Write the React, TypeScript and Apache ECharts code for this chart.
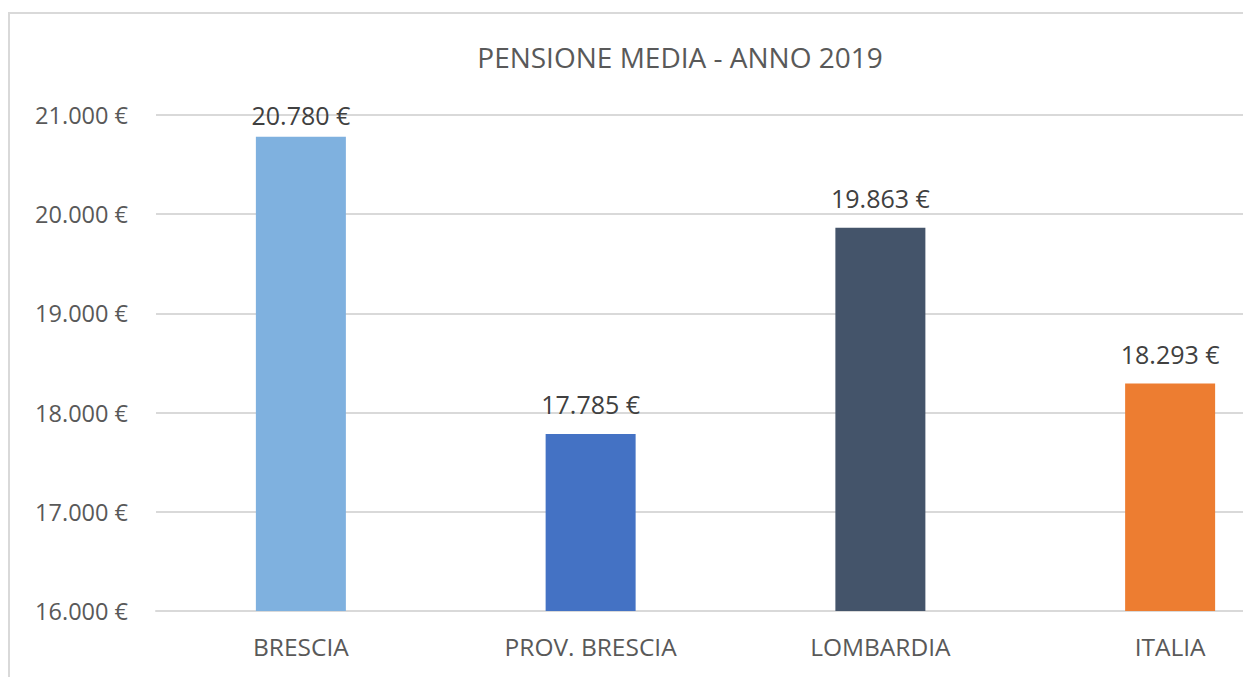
import React, { useEffect, useRef } from "react";
import * as echarts from "echarts";

const TITLE = "PENSIONE MEDIA - ANNO 2019";
const categories = ["BRESCIA", "PROV. BRESCIA", "LOMBARDIA", "ITALIA"];
const values = [20780, 17785, 19863, 18293];
const barColors = ["#7FB1DF", "#4472C4", "#44546A", "#ED7D31"];
const yMin = 16000;
const yMax = 21000;
const yStep = 1000;

const fmt = (v: number) =>
  String(Math.round(v)).replace(/\B(?=(\d{3})+(?!\d))/g, ".") + " €";

const FONT = "'Open Sans', 'Noto Sans', sans-serif";

const GRID_TOP = 115;
const GRID_BOTTOM_Y = 611;
const LABEL_SIZE = 25;

export default function App() {
  const ref = useRef<HTMLDivElement>(null);
  useEffect(() => {
    if (!ref.current) return;
    const chart = echarts.init(ref.current, null, { renderer: "svg" });
    const ppu = (GRID_BOTTOM_Y - GRID_TOP) / (yMax - yMin);
    // Excel keeps labels inside the plot area: clamp the label offset
    const labelDistance = (v: number) => {
      const normal = 17;
      const maxOff = (yMax - v) * ppu + 0.5 - LABEL_SIZE / 2;
      return Math.min(normal, maxOff);
    };
    chart.setOption({
      animation: false,
      backgroundColor: "#ffffff",
      textStyle: { fontFamily: FONT },
      graphic: [
        {
          type: "rect",
          shape: { x: 9, y: 13, width: 1500, height: 1000 },
          style: { fill: "none", stroke: "#d9d9d9", lineWidth: 2 },
          silent: true,
          z: -10,
        },
        {
          type: "text",
          x: 680,
          y: 57,
          style: {
            text: TITLE,
            fontFamily: FONT,
            fontSize: 28,
            fill: "#595959",
            align: "center",
            verticalAlign: "middle",
          },
        },
      ],
      grid: { left: 156, right: 15, top: GRID_TOP, bottom: 677 - GRID_BOTTOM_Y, containLabel: false },
      xAxis: {
        type: "category",
        data: categories,
        axisLine: { show: true, lineStyle: { color: "#d9d9d9", width: 2 } },
        axisTick: { show: false },
        axisLabel: {
          color: "#595959",
          fontSize: 24.5,
          fontFamily: FONT,
          margin: 23,
        },
      },
      yAxis: {
        type: "value",
        min: yMin,
        max: yMax,
        interval: yStep,
        axisLine: { show: false },
        axisTick: { show: false },
        splitLine: { lineStyle: { color: "#d9d9d9", width: 2 } },
        axisLabel: {
          color: "#595959",
          fontSize: 23.5,
          fontFamily: FONT,
          margin: 28,
          formatter: (v: number) => fmt(v),
        },
      },
      series: [
        {
          type: "bar",
          barWidth: 90,
          data: values.map((v, i) => ({
            value: v,
            itemStyle: { color: barColors[i] },
            label: { distance: labelDistance(v) },
          })),
          label: {
            show: true,
            position: "top",
            color: "#404040",
            fontSize: LABEL_SIZE,
            fontFamily: FONT,
            formatter: (p: any) => fmt(p.value),
          },
        },
      ],
    });
    return () => chart.dispose();
  }, []);
  return (
    <div
      style={{
        position: "absolute",
        left: 0,
        top: 0,
        width: 1243,
        height: 677,
        overflow: "hidden",
        background: "#fff",
      }}
    >
      <div ref={ref} style={{ width: 1330, height: 677 }} />
    </div>
  );
}
